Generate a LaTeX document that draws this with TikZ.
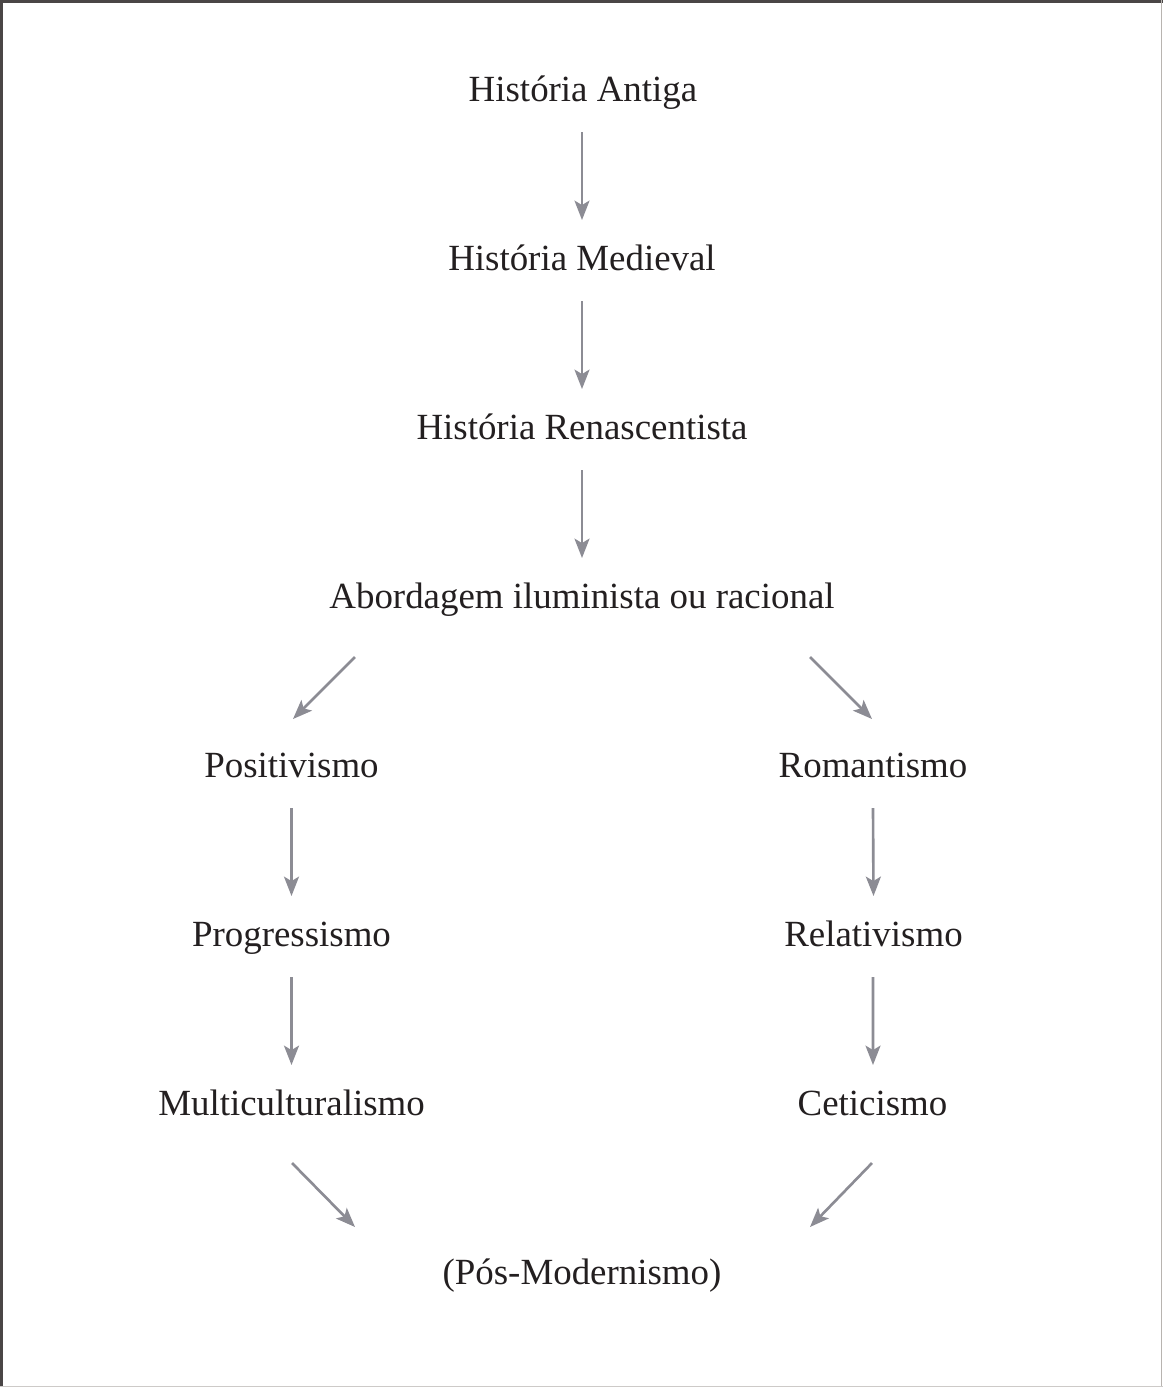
\documentclass[tikz,border=0pt]{standalone}
\usepackage{fontspec}
\setmainfont{Liberation Serif}
\usetikzlibrary{arrows.meta,calc}
\definecolor{arrowgray}{HTML}{8C8C94}
\definecolor{textdark}{HTML}{231F20}
\definecolor{framedark}{HTML}{4A4646}
\definecolor{framelight}{HTML}{B8B4B0}
\begin{document}
\begin{tikzpicture}[x=0.02cm,y=-0.02cm,
  lbl/.style={anchor=base,inner sep=0pt,text=textdark,font=\fontsize{21}{25}\selectfont},
  arr/.style={draw=arrowgray,line width=1.5pt,-{Stealth[length=11pt,width=8.5pt,inset=2.5pt]}}]
\useasboundingbox (0,0) rectangle (1163,1387);
\fill[white] (0,0) rectangle (1163,1387);
% frame
\draw[framedark,line width=2pt] (1,1387) -- (1,1.5) -- (1163,1.5);
\draw[framelight,line width=1.1pt] (1161.5,0) -- (1161.5,1387);
\draw[framelight!70,line width=0.6pt] (0,1386.5) -- (1163,1386.5);
% nodes
\node[lbl] (ant) at (583,101) {História Antiga};
\node[lbl] (med) at (582,270) {História Medieval};
\node[lbl] (ren) at (582,439) {História Renascentista};
\node[lbl] (abo) at (582,608) {Abordagem iluminista ou racional};
\node[lbl] (pos) at (291.5,777) {Positivismo};
\node[lbl] (rom) at (873,777) {Romantismo};
\node[lbl] (pro) at (291.5,946) {Progressismo};
\node[lbl] (rel) at (873.5,946) {Relativismo};
\node[lbl] (mul) at (291.5,1115) {Multiculturalismo};
\node[lbl] (cet) at (872.5,1115) {Ceticismo};
\node[lbl] (pmo) at (582,1284) {(Pós-Modernismo)};
% connectors
\draw[arr] ($(ant.base)+(-1,31)$) -- ($(med.base)+(0,-50)$);
\draw[arr] ($(med.base)+(0,31)$) -- ($(ren.base)+(0,-50)$);
\draw[arr] ($(ren.base)+(0,31)$) -- ($(abo.base)+(0,-50)$);
\draw[arr] ($(abo.base)+(-227,49)$) -- ($(pos.base)+(1.5,-58)$);
\draw[arr] ($(abo.base)+(228,49)$) -- ($(rom.base)+(-1,-58)$);
\draw[arr] ($(pos.base)+(0,31)$) -- ($(pro.base)+(0,-50)$);
\draw[arr] ($(pro.base)+(0,31)$) -- ($(mul.base)+(0,-50)$);
\draw[arr] ($(rom.base)+(0,31)$) -- ($(rel.base)+(0,-50)$);
\draw[arr] ($(rel.base)+(-0.5,31)$) -- ($(cet.base)+(0.5,-50)$);
\draw[arr] ($(mul.base)+(0.5,48)$) -- ($(pmo.base)+(-227,-57)$);
\draw[arr] ($(cet.base)+(-0.5,48)$) -- ($(pmo.base)+(228,-57)$);
\end{tikzpicture}
\end{document}
